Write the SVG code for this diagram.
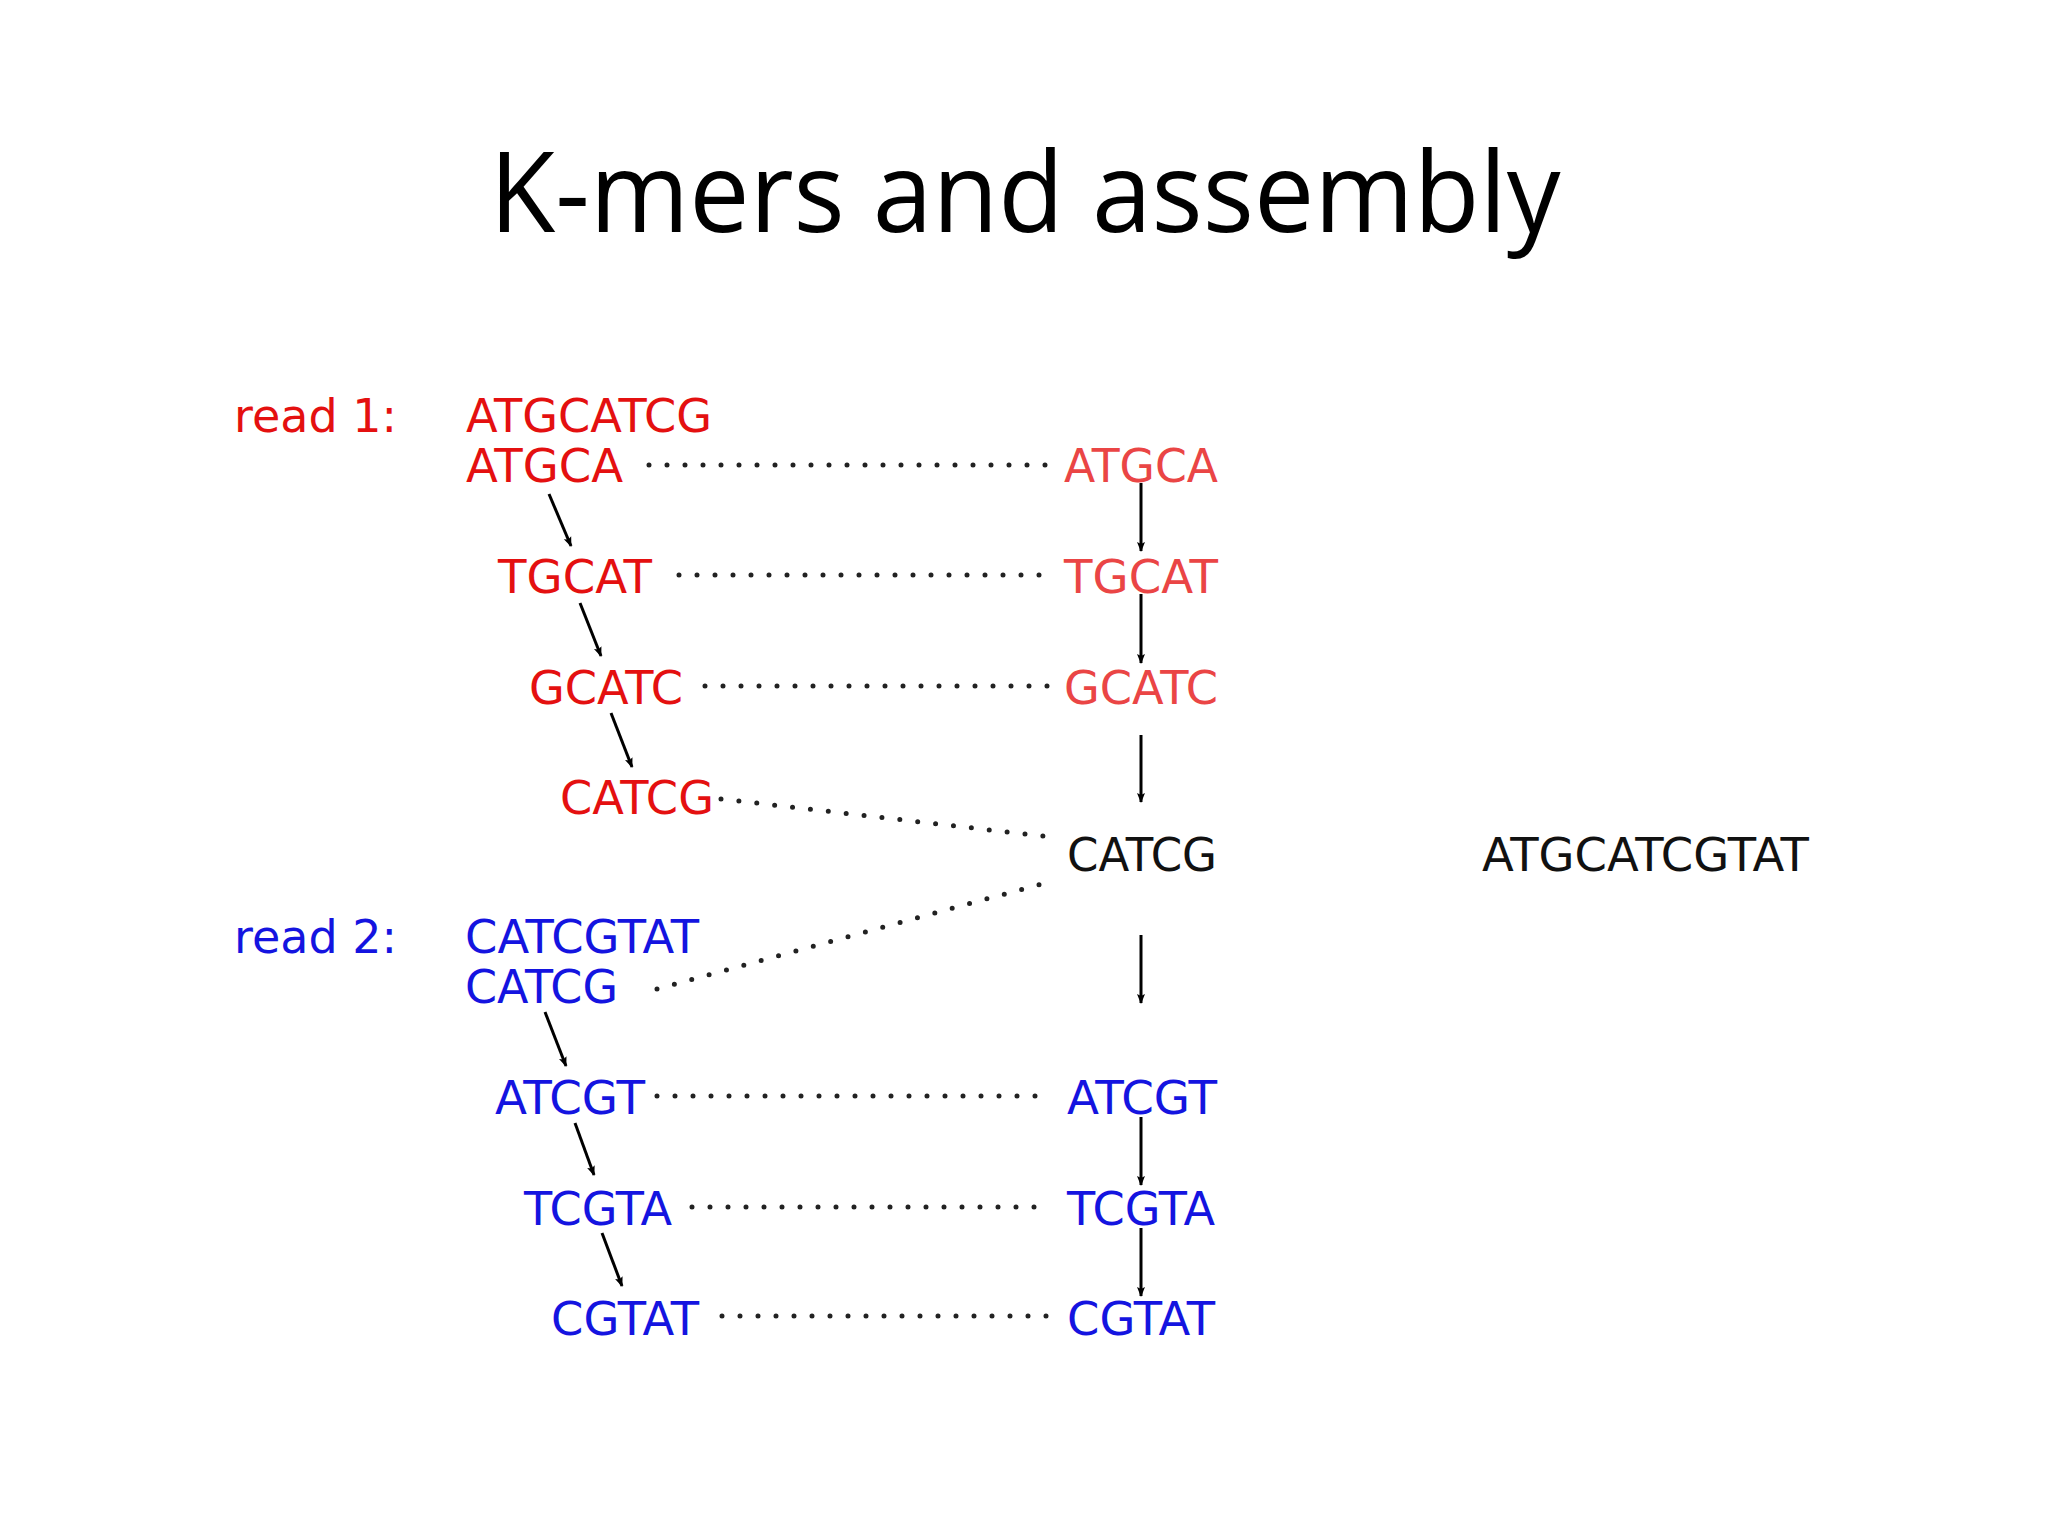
<svg xmlns="http://www.w3.org/2000/svg" width="2048" height="1536" viewBox="0 0 2048 1536">
<defs><marker id="ah" viewBox="0 0 10 10" refX="9" refY="5" markerWidth="10" markerHeight="22" markerUnits="userSpaceOnUse" orient="auto"><path d="M0,1 L10,5 L0,9 L2,5 z" fill="#000"/></marker>
<style>
text{font-family:"DejaVu Sans",sans-serif;font-size:46px}
.r{fill:#e41010}.rl{fill:#ea4545}.b{fill:#1414e0}.k{fill:#111}
.d{stroke:#222;stroke-width:5;stroke-linecap:round;stroke-dasharray:0 18;fill:none}
.a{stroke:#000;stroke-width:3;fill:none;marker-end:url(#ah)}
</style></defs>
<rect width="2048" height="1536" fill="#fff"/>
<text x="1025" y="232" text-anchor="middle" style="font-family:'Open Sans',sans-serif;font-size:112px" fill="#000" textLength="1071" lengthAdjust="spacingAndGlyphs">K-mers and assembly</text>
<g id="labels">
<text class="r" x="234" y="432" textLength="163" lengthAdjust="spacingAndGlyphs">read 1:</text>
<text class="r" x="466" y="432" textLength="246" lengthAdjust="spacingAndGlyphs">ATGCATCG</text>
<text class="b" x="234" y="953" textLength="163" lengthAdjust="spacingAndGlyphs">read 2:</text>
<text class="b" x="465" y="953" textLength="234" lengthAdjust="spacingAndGlyphs">CATCGTAT</text>
<text class="k" x="1482" y="871" textLength="327" lengthAdjust="spacingAndGlyphs">ATGCATCGTAT</text>
</g>
<g id="n1"><text class="r" x="466" y="482" textLength="157" lengthAdjust="spacingAndGlyphs">ATGCA</text></g>
<g id="n2"><text class="r" x="498" y="593" textLength="154" lengthAdjust="spacingAndGlyphs">TGCAT</text></g>
<g id="n3"><text class="r" x="529" y="704" textLength="154" lengthAdjust="spacingAndGlyphs">GCATC</text></g>
<g id="n4"><text class="r" x="560" y="814" textLength="154" lengthAdjust="spacingAndGlyphs">CATCG</text></g>
<g id="n5"><text class="rl" x="1064" y="482" textLength="154" lengthAdjust="spacingAndGlyphs">ATGCA</text></g>
<g id="n6"><text class="rl" x="1064" y="593" textLength="154" lengthAdjust="spacingAndGlyphs">TGCAT</text></g>
<g id="n7"><text class="rl" x="1064" y="704" textLength="154" lengthAdjust="spacingAndGlyphs">GCATC</text></g>
<g id="n8"><text class="k" x="1067" y="871" textLength="150" lengthAdjust="spacingAndGlyphs">CATCG</text></g>
<g id="n9"><text class="b" x="465" y="1003" textLength="153" lengthAdjust="spacingAndGlyphs">CATCG</text></g>
<g id="n10"><text class="b" x="495" y="1114" textLength="150" lengthAdjust="spacingAndGlyphs">ATCGT</text></g>
<g id="n11"><text class="b" x="524" y="1225" textLength="148" lengthAdjust="spacingAndGlyphs">TCGTA</text></g>
<g id="n12"><text class="b" x="551" y="1335" textLength="148" lengthAdjust="spacingAndGlyphs">CGTAT</text></g>
<g id="n13"><text class="b" x="1067" y="1114" textLength="150" lengthAdjust="spacingAndGlyphs">ATCGT</text></g>
<g id="n14"><text class="b" x="1067" y="1225" textLength="148" lengthAdjust="spacingAndGlyphs">TCGTA</text></g>
<g id="n15"><text class="b" x="1067" y="1335" textLength="148" lengthAdjust="spacingAndGlyphs">CGTAT</text></g>
<g id="connectors">
<path class="d" d="M649,465 H1051"/>
<path class="d" d="M679,575 H1053"/>
<path class="d" d="M705,686 H1053"/>
<path class="d" d="M721,799 L1051,837"/>
<path class="d" d="M657,989 L1045,883"/>
<path class="d" d="M657,1096 H1053"/>
<path class="d" d="M692,1207 H1047"/>
<path class="d" d="M722,1316 H1053"/>
<path class="a" d="M549,494 L571,546"/>
<path class="a" d="M580,603 L601,656"/>
<path class="a" d="M611,713 L632,767"/>
<path class="a" d="M545,1012 L566,1066"/>
<path class="a" d="M575,1123 L594,1175"/>
<path class="a" d="M602,1233 L622,1286"/>
<path class="a" d="M1141,483 V551"/>
<path class="a" d="M1141,594 V663"/>
<path class="a" d="M1141,735 V802"/>
<path class="a" d="M1141,935 V1003"/>
<path class="a" d="M1141,1117 V1185"/>
<path class="a" d="M1141,1228 V1296"/>
</g>
</svg>
